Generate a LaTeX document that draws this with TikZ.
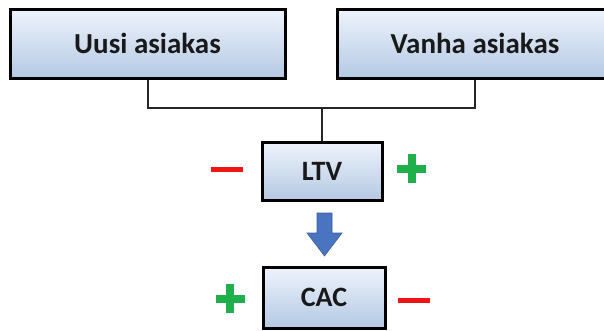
\documentclass[tikz,border=0pt]{standalone}
\usepackage{fontspec}
\setmainfont{Carlito}
\begin{document}
\begin{tikzpicture}[x=1pt,y=-1pt,
  box/.style={draw=black,line width=3pt,top color=boxtop,bottom color=boxbot,
    font=\fontsize{28}{30}\selectfont\bfseries,text=black!90,inner sep=0pt},
  bigbox/.style={box,font=\fontsize{29}{32}\selectfont\bfseries},
  conn/.style={line width=2pt,draw=black!85},
  plusc/.style={fill=plusgreen},
  minusc/.style={fill=minusred}]
\definecolor{boxtop}{HTML}{EEF3FB}
\definecolor{boxbot}{HTML}{B4C9E4}
\definecolor{plusgreen}{HTML}{1FAF4B}
\definecolor{minusred}{HTML}{F01414}
\definecolor{arrowblue}{HTML}{4A74C0}
\path[use as bounding box] (0,0) rectangle (604,330);
\clip (0,0) rectangle (604,330);
\node[bigbox,minimum width=275pt,minimum height=69pt] (uusi) at (147.5,43.5) {Uusi asiakas};
\node[bigbox,minimum width=276pt,minimum height=69pt] (vanha) at (475,43.5) {Vanha asiakas};
\node[box,minimum width=120pt,minimum height=58pt] (ltv) at (322,171) {LTV};
\node[box,minimum width=122pt,minimum height=61pt] (cac) at (324,297.5) {CAC};
\coordinate (j) at (322,108);
\draw[conn] (uusi.south) |- (j) -| (vanha.south);
\draw[conn] (j) -- (ltv.north);
% arrow
\fill[arrowblue,draw=arrowblue!80!black,line width=0.6pt]
  (317,213) -- (332,213) -- (332,233) -- (342,233) -- (324.5,256) -- (307,233) -- (317,233) -- cycle;
% LTV symbols
\fill[minusc] (211,166.5) rectangle (243,171.5);
\fill[plusc] (407.5,154) rectangle (415.5,183);
\fill[plusc] (397,164.5) rectangle (426,172.5);
% CAC symbols
\fill[plusc] (226,284) rectangle (234,313);
\fill[plusc] (215.5,294.5) rectangle (244.5,302.5);
\fill[minusc] (398,297.5) rectangle (430,302.5);
\end{tikzpicture}
\end{document}
